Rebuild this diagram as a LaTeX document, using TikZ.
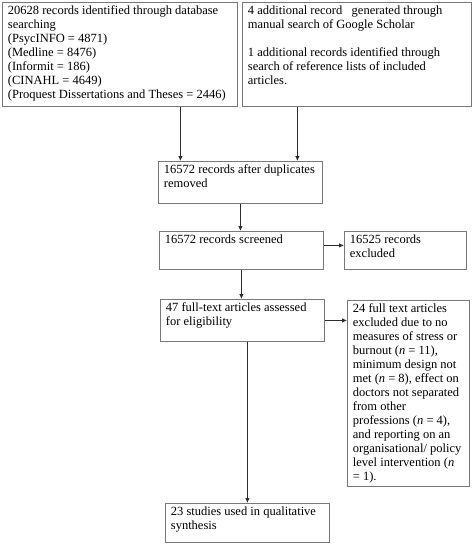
\documentclass[tikz,border=0pt]{standalone}
\usepackage{fontspec}
\setmainfont{Liberation Serif}
\usetikzlibrary{arrows.meta}

\definecolor{boxgray}{RGB}{120,120,120}
\definecolor{arrowgray}{RGB}{45,45,45}

% top aligned text of a fixed size inside a box
\newcommand{\stagetext}[3]{\begin{minipage}[t][#2][t]{#1}\raggedright #3\end{minipage}}

\begin{document}
\begin{tikzpicture}[x=1pt,y=-1pt,
    stage/.style={draw=boxgray, line width=0.8pt, anchor=north west, inner xsep=5.5pt, inner ysep=3pt,
      font=\fontsize{12.5}{14}\selectfont},
    flow/.style={draw=arrowgray, line width=0.8pt, -{Latex[length=5pt,width=4.5pt]}}]
      \useasboundingbox (0,0) rectangle (472,544);

      % Identification
      \node[stage] (search) at (2,2) {\stagetext{224pt}{98pt}{20628 records identified through database\\ searching\\
        (PsycINFO = 4871)\\ (Medline = 8476)\\ (Informit = 186)\\ (CINAHL = 4649)\\
        (Proquest Dissertations and Theses = 2446)}};
      \node[stage] (extra) at (242,2) {\stagetext{218pt}{98pt}{4 additional record\ \ \ generated through\\ manual search of Google Scholar\\[14pt]
        1 additional records identified through\\ search of reference lists of included\\ articles.}};

      % Screening
      \node[stage] (dupes) at (158,161) {\stagetext{153pt}{36pt}{16572 records after duplicates\\ removed}};
      \node[stage] (screened) at (159,231) {\stagetext{153pt}{32pt}{16572 records screened}};
      \node[stage] (excluded) at (344,231) {\stagetext{111pt}{32pt}{16525 records\\ excluded}};

      % Eligibility
      \node[stage] (fulltext) at (160,299) {\stagetext{153pt}{36pt}{47 full-text articles assessed\\ for eligibility}};
      \node[stage] (ftexcluded) at (347,300) {\stagetext{111pt}{180pt}{24 full text articles\\ excluded due to no\\
        measures of stress or\\ burnout (\textit{n} = 11),\\ minimum design not\\ met (\textit{n} = 8), effect on\\
        doctors not separated\\ from other\\ professions (\textit{n} = 4),\\ and reporting on an\\
        organisational/ policy\\ level intervention (\textit{n}\\ = 1).}};

      % Included
      \node[stage] (included) at (165,503) {\stagetext{153pt}{33pt}{23 studies used in qualitative\\ synthesis}};

      % Connectors
      \draw[flow] ([xshift=60.5pt]search.south) -- ([xshift=60.5pt]search.south |- dupes.north);
      \draw[flow] ([xshift=-59.5pt]extra.south) -- ([xshift=-59.5pt]extra.south |- dupes.north);
      \draw[flow] (dupes.south) -- (dupes.south |- screened.north);
      \draw[flow] (screened.south) -- (screened.south |- fulltext.north);
      \draw[flow] ([yshift=5pt]screened.east) -- ([yshift=5pt]screened.east -| excluded.west);
      \draw[flow] (fulltext.east) -- (fulltext.east -| ftexcluded.west);
      \draw[flow] (included.north |- fulltext.south) -- (included.north);
\end{tikzpicture}
\end{document}
